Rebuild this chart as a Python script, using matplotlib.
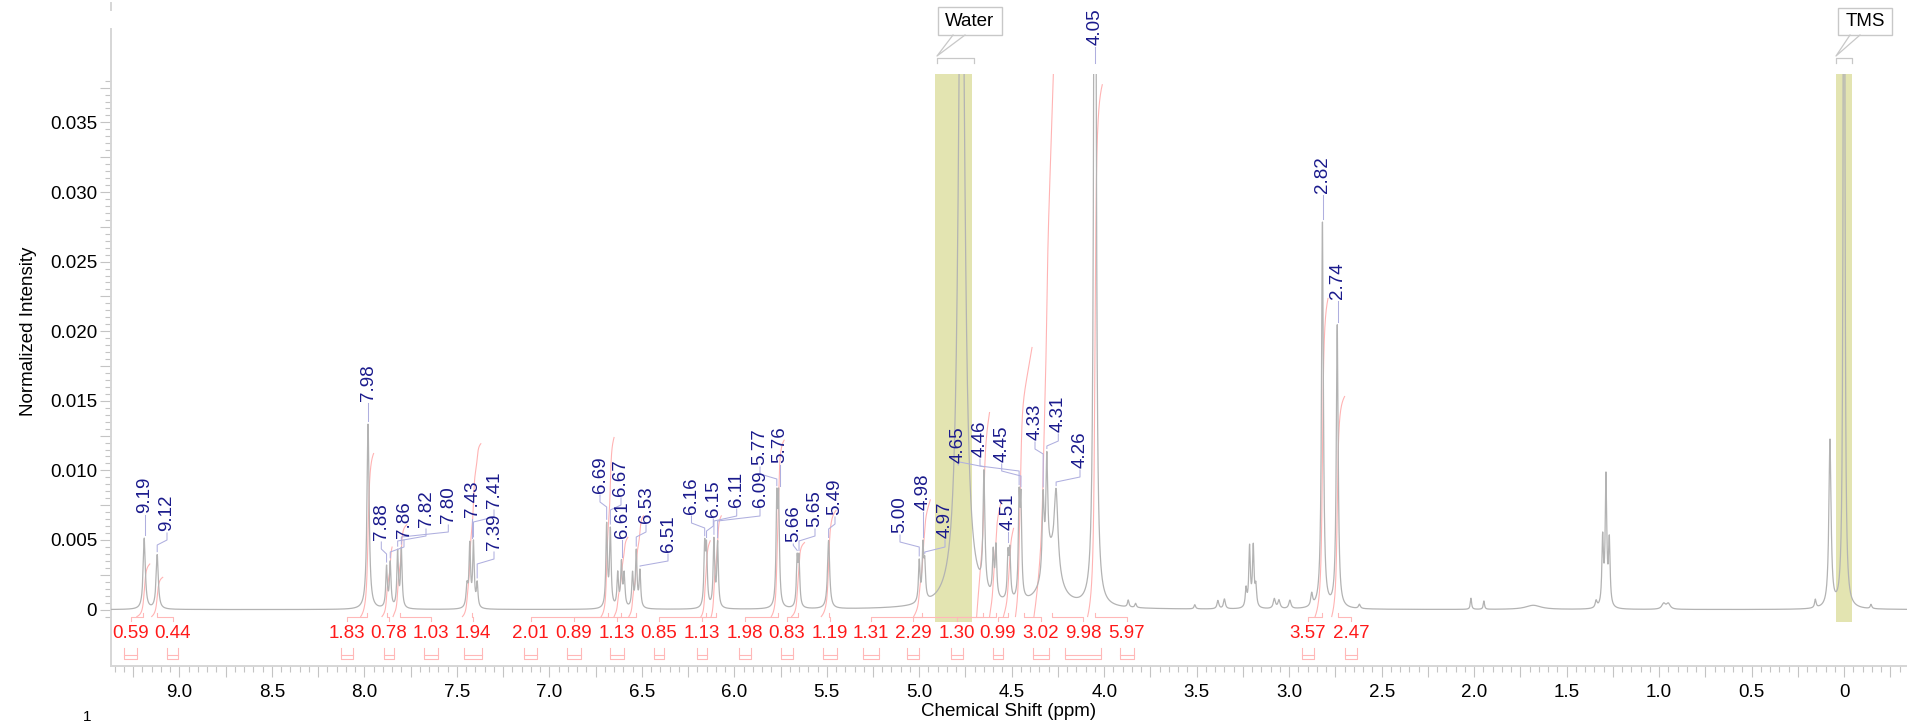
import numpy as np
import matplotlib
matplotlib.use("Agg")
import matplotlib.pyplot as plt
from matplotlib.lines import Line2D
from matplotlib.patches import Rectangle
from matplotlib.ticker import FixedLocator, FuncFormatter

plt.rcParams['font.family'] = ['Liberation Sans', 'DejaVu Sans']

# ---------------------------------------------------------------- data
# 1H spectrum peaks: centre (ppm), height (normalized intensity), half width (ppm)
peak_ppm = [9.19, 9.12, 7.98, 7.88, 7.86, 7.82, 7.80, 7.445, 7.43, 7.41, 7.39,
            6.69, 6.67, 6.63, 6.61, 6.595, 6.55, 6.53, 6.51,
            6.16, 6.15, 6.11, 6.09, 5.77, 5.76, 5.66, 5.65, 5.49,
            5.00, 4.98, 4.97, 4.771, 4.65, 4.60, 4.585, 4.52, 4.51, 4.46, 4.45,
            4.33, 4.31, 4.26, 4.29, 4.05,
            3.87, 3.83, 3.51, 3.385, 3.35, 3.233, 3.214, 3.194, 3.18,
            3.08, 3.055, 2.996, 2.878, 2.82, 2.74, 2.62,
            2.017, 1.947, 1.68, 1.34, 1.305, 1.287, 1.269, 0.975, 0.95,
            0.155, 0.076, 0.0, -0.146]
peak_height = [0.0051, 0.0039, 0.0133, 0.0029, 0.0032, 0.0040, 0.0042, 0.0015, 0.0044, 0.0046, 0.0017,
               0.0059, 0.0055, 0.0024, 0.0031, 0.0023, 0.0024, 0.0040, 0.0026,
               0.0042, 0.0040, 0.0048, 0.0046, 0.0072, 0.0072, 0.0033, 0.0033, 0.0049,
               0.0029, 0.0038, 0.0024, 0.056, 0.0084, 0.0031, 0.0036, 0.0031, 0.0033, 0.0068, 0.0066,
               0.0055, 0.0074, 0.0058, 0.0035, 0.090,
               0.0005, 0.0003, 0.0003, 0.0006, 0.0007, 0.0013, 0.0043, 0.0043, 0.0014,
               0.0007, 0.0006, 0.0006, 0.0009, 0.0277, 0.0203, 0.0003,
               0.0008, 0.0006, 0.0003, 0.0005, 0.0048, 0.0092, 0.0046, 0.0004, 0.0004,
               0.0006, 0.0120, 0.090, 0.0003]
peak_hwhm = [0.007, 0.007, 0.007, 0.005, 0.005, 0.005, 0.005, 0.006, 0.005, 0.005, 0.005,
             0.005, 0.005, 0.005, 0.005, 0.005, 0.005, 0.005, 0.005,
             0.005, 0.005, 0.005, 0.005, 0.005, 0.005, 0.005, 0.005, 0.007,
             0.005, 0.005, 0.005, 0.020, 0.006, 0.005, 0.005, 0.005, 0.005, 0.005, 0.005,
             0.006, 0.006, 0.012, 0.05, 0.006,
             0.005, 0.005, 0.005, 0.006, 0.006, 0.005, 0.005, 0.005, 0.005,
             0.007, 0.007, 0.007, 0.006, 0.006, 0.006, 0.006,
             0.004, 0.004, 0.05, 0.006, 0.005, 0.005, 0.005, 0.012, 0.012,
             0.005, 0.007, 0.004, 0.005]

# picked peaks (ppm) with their on-plot label column / text-bottom row (pixels)
label_ppm = [9.19, 9.12, 7.98, 7.88, 7.86, 7.82, 7.80, 7.43, 7.41, 7.39,
             6.69, 6.67, 6.61, 6.53, 6.51, 6.16, 6.15, 6.11, 6.09, 5.77, 5.76,
             5.66, 5.65, 5.49, 5.00, 4.98, 4.97, 4.65, 4.46, 4.45, 4.51,
             4.33, 4.31, 4.26, 4.05, 2.82, 2.74]
label_col_px = [144.5, 167, 368, 381.3, 404, 426, 448.3, 472, 494, 494,
                600, 621, 622, 646, 668, 691.5, 713.3, 736.7, 760, 760, 780,
                793.3, 815, 835, 900, 923.3, 945, 958.3, 980, 1001.7, 1008.3,
                1035, 1058.3, 1080, 1095, 1323, 1337.5]
label_bottom_px = [513, 531, 401, 540, 538, 527, 523, 517, 508, 550,
                   493, 496, 538, 523, 552, 514, 517, 507, 507, 465, 463,
                   542, 527, 515, 533, 510, 538, 463, 457, 462, 530,
                   440, 432, 468, 45, 193, 299]

# integrals: value, region start / end (ppm), label column (pixels)
integral_values = [0.59, 0.44, 1.83, 0.78, 1.03, 1.94, 2.01, 0.89, 1.13, 0.85, 1.13,
                   1.98, 0.83, 1.19, 1.31, 2.29, 1.30, 0.99, 3.02, 9.98, 5.97, 3.57, 2.47]
integral_from = [9.23, 9.15, 8.02, 7.905, 7.845, 7.47, 6.72, 6.65, 6.57, 6.18, 6.125,
                 5.80, 5.69, 5.53, 5.03, 4.69, 4.62, 4.545, 4.48, 4.38, 4.09, 2.86, 2.77]
integral_to = [9.16, 9.09, 7.95, 7.85, 7.77, 7.37, 6.65, 6.575, 6.49, 6.13, 6.07,
               5.73, 5.62, 5.45, 4.94, 4.62, 4.555, 4.49, 4.39, 4.18, 4.01, 2.79, 2.70]
integral_col_px = [130.6, 172.7, 347, 389, 431, 473, 530.5, 574, 617, 659, 702,
                   745, 787, 830, 871, 913, 957, 998, 1041, 1083, 1127, 1308, 1351]

# shaded solvent / reference regions (ppm)
region_names = ["Water", "TMS"]
region_from = [4.914, 0.043]
region_to = [4.716, -0.043]

# ---------------------------------------------------------------- geometry
W, H = 1907, 727
X0_PX, X0_PPM, PX_PER_PPM = 179.4, 9.0, 184.96
Y0_PX, PX_PER_UNIT = 609.6, 13920.0
CLIP_TOP = 0.0385


def ppm_at(px):
    return X0_PPM - (px - X0_PX) / PX_PER_PPM


def px_at(ppm):
    return X0_PX + (X0_PPM - ppm) * PX_PER_PPM


def val_at(py):
    return (Y0_PX - py) / PX_PER_UNIT


def py_at(v):
    return Y0_PX - v * PX_PER_UNIT


def fig_line(fig, xs, ys, **kw):
    fig.add_artist(Line2D([x / W for x in xs], [1 - y / H for y in ys],
                          transform=fig.transFigure, **kw))


fig = plt.figure(figsize=(W / 100, H / 100), dpi=100)
ax = fig.add_axes([111 / W, 1 - 666 / H, (W - 111) / W, (666 - 29) / H])
ax.set_xlim(ppm_at(111), ppm_at(W))
ax.set_ylim(val_at(666), val_at(29))
ax.patch.set_alpha(0)

# spectrum as a sum of Lorentzian lines (ascending ppm grid)
x = np.linspace(ppm_at(W), ppm_at(111), 24000)
spec = np.zeros_like(x)
for c, h, g in zip(peak_ppm, peak_height, peak_hwhm):
    spec += h / (1.0 + ((x - c) / g) ** 2)

clip = Rectangle((ppm_at(W), val_at(700)), ppm_at(111) - ppm_at(W),
                 CLIP_TOP - val_at(700), transform=ax.transData)

# shaded regions
for a, b in zip(region_from, region_to):
    ax.add_patch(Rectangle((b, val_at(621.7)), a - b, CLIP_TOP - val_at(621.7),
                           facecolor="#e3e4b1", edgecolor="none", zorder=1))

line, = ax.plot(x, spec, color="#b3b3b3", lw=0.9, zorder=3)
line.set_clip_path(clip)

# integral curves (accumulated from the high-ppm edge) and brackets
INT_BASE, INT_SCALE = -0.0005, 0.0064
pink = "#ffb8b8"
for v, a, b, lx in zip(integral_values, integral_from, integral_to, integral_col_px):
    m = (x <= a) & (x >= b)
    xs = x[m][::-1]
    ys = spec[m][::-1]
    cum = np.concatenate([[0.0], np.cumsum(0.5 * (ys[1:] + ys[:-1]) * np.abs(np.diff(xs)))])
    cum = cum / cum[-1]
    c, = ax.plot(xs, INT_BASE + INT_SCALE * v * cum, color="#ff9a9a", lw=0.8,
                 alpha=0.75, zorder=2)
    c.set_clip_path(clip)
    xa, xb = px_at(a), px_at(b)
    xm = 0.5 * (xa + xb)
    fig_line(fig, [lx, lx, xm, xm], [621, 617, 617, 613], color=pink, lw=0.8)
    half = max(abs(xb - xa), 7) / 2
    fig_line(fig, [lx - half, lx - half, lx + half, lx + half], [648, 659, 659, 648],
             color=pink, lw=0.8)
    fig_line(fig, [lx - half, lx + half], [655, 655], color=pink, lw=0.8)
    fig.text(lx / W, 1 - 633 / H, f"{v:.2f}", color="#ff1a1a", fontsize=13.5,
             ha="center", va="center")

# peak labels with leader lines
for p, tx, tb in zip(label_ppm, label_col_px, label_bottom_px):
    top = min(np.interp(p, x, spec), CLIP_TOP)
    px = px_at(p)
    tpy = py_at(top)
    yend = tpy - 3 if top < CLIP_TOP else 63
    if abs(tx - px) < 3:
        xs_, ys_ = [tx, tx], [tb + 2, yend]
    else:
        ya = min(tb + 9, yend - 5)
        yb = min(ya + 5, yend)
        xs_, ys_ = [tx, tx, px, px], [tb + 2, ya, yb, yend]
    fig_line(fig, xs_, ys_, color="#afafdf", lw=0.75)
    fig.text(tx / W, 1 - tb / H, f"{p:.2f}", rotation=90, color="#1a1a8c",
             fontsize=13.5, ha="center", va="bottom")

# region callouts
grey = "#c8c8c8"
boxes = {"Water": (938, 7, 1002, 35, 953, 965, 937, 974),
         "TMS": (1838, 8, 1892, 35, 1850, 1860, 1836, 1852)}
for name in region_names:
    x0, y0, x1, y1, c0, c1, b0, b1 = boxes[name]
    fig.add_artist(Rectangle((x0 / W, 1 - y1 / H), (x1 - x0) / W, (y1 - y0) / H,
                             transform=fig.transFigure, facecolor="white",
                             edgecolor=grey, lw=1.0))
    fig.text((x0 + x1) / 2 / W, 1 - (y0 + y1) / 2 / H, name, fontsize=13.5,
             ha="center", va="center", color="black")
    fig_line(fig, [c0, b0, c1], [y1, 56, y1], color=grey, lw=0.9)
    fig_line(fig, [b0, b0, b1, b1], [63, 58, 58, 63], color=grey, lw=0.9)

# axes styling
for s in ("top", "right"):
    ax.spines[s].set_visible(False)
for s in ("left", "bottom"):
    ax.spines[s].set_color("#d6d6d6")
    ax.spines[s].set_linewidth(1.4)
fig_line(fig, [111, 111], [3, 10], color="#d6d6d6", lw=1.4)

ax.xaxis.set_major_locator(FixedLocator(np.arange(-0.25, 9.31, 0.25)))
ax.xaxis.set_minor_locator(FixedLocator(np.arange(-0.3, 9.36, 0.05)))
ax.xaxis.set_major_formatter(FuncFormatter(
    lambda v, _: ("0" if abs(v) < 1e-9 else f"{v:.1f}")
    if abs(v * 2 - round(v * 2)) < 1e-6 and v > -0.01 else ""))
ax.yaxis.set_major_locator(FixedLocator(np.arange(0, 0.03751, 0.0025)))
ax.yaxis.set_minor_locator(FixedLocator(np.arange(-0.0005, 0.03801, 0.0005)))
ax.yaxis.set_major_formatter(FuncFormatter(
    lambda v, _: ("0" if abs(v) < 1e-9 else f"{v:.3f}")
    if abs(v / 0.005 - round(v / 0.005)) < 1e-6 else ""))
ax.tick_params(axis="both", which="major", length=7.8, width=0.8, color="#c4c4c4",
               labelsize=13.5, labelcolor="black")
ax.tick_params(axis="both", which="minor", length=4.3, width=0.8, color="#c4c4c4")
ax.tick_params(axis="x", which="major", pad=5.5)
ax.tick_params(axis="y", which="major", pad=2.2)

fig.text(1009 / W, 1 - 712 / H, "Chemical Shift (ppm)", fontsize=13.5,
         ha="center", va="center")
fig.text(28.5 / W, 1 - 331 / H, "Normalized Intensity", fontsize=13.5,
         rotation=90, ha="center", va="center")
fig.text(87 / W, 1 - 724 / H, "1", fontsize=11, ha="center", va="bottom")

fig.savefig("out.png", dpi=100)
